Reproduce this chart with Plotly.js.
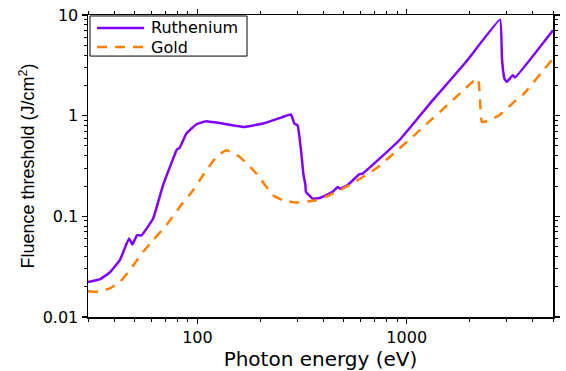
<!DOCTYPE html>
<html>
<head>
<meta charset="utf-8">
<script src="https://cdn.plot.ly/plotly-3.0.1.min.js"></script>
<style>html,body{margin:0;padding:0;background:#fff;}#chart{width:566px;height:371px;}</style>
</head>
<body>
<div id="chart"></div>
<script>
// Photon energy (eV) and fluence threshold (J/cm^2)
const ruEnergy = [30, 34.1, 38.1, 42.6, 47.1, 48.9, 51.4, 54, 61.4, 68.5, 79.4, 80.5, 82, 88.6, 98.9, 110, 137.8, 165.3, 205.8, 255.6, 280, 290.4, 301, 312.6, 320.7, 328, 330, 355.6, 383, 443, 468, 480, 522, 594, 616, 922, 1330, 1918, 2793, 2851, 2929, 3004, 3210, 3290, 5000];
const ruFluence = [0.0223, 0.0236, 0.0277, 0.0367, 0.0602, 0.0525, 0.0649, 0.0645, 0.095, 0.204, 0.453, 0.47, 0.475, 0.664, 0.822, 0.879, 0.822, 0.773, 0.835, 0.97, 1.03, 0.835, 0.802, 0.453, 0.266, 0.204, 0.175, 0.150, 0.152, 0.175, 0.196, 0.188, 0.204, 0.262, 0.266, 0.570, 1.42, 3.41, 8.99, 3.68, 2.34, 2.16, 2.52, 2.39, 7.05];

const auEnergy = [30, 34.1, 38.1, 42.6, 47.5, 55, 61.4, 71.1, 82.3, 95.3, 106.4, 123.3, 137.7, 159.3, 191.4, 229.7, 256, 296, 369, 428, 532, 713, 1109, 1721, 2184, 2290, 2483, 2769, 3325, 3580, 5000];
const auFluence = [0.018, 0.0178, 0.0192, 0.0223, 0.0292, 0.0444, 0.058, 0.0817, 0.124, 0.1816, 0.256, 0.389, 0.453, 0.389, 0.266, 0.162, 0.1445, 0.137, 0.1445, 0.162, 0.204, 0.298, 0.664, 1.53, 2.34, 0.865, 0.90, 1.01, 1.42, 1.60, 3.69];

const seriesNames = ["Ruthenium", "Gold"];
const xTickVals = [100, 1000];
const xTickText = ["100", "1000"];
const yTickVals = [0.01, 0.1, 1, 10];
const yTickText = ["0.01", "0.1", "1", "10"];

const FONT = "DejaVu Sans, Verdana, sans-serif";
const FONT_Y = "Liberation Sans, Arial, sans-serif";
const COLORS = ["rgb(128,0,255)", "rgb(255,128,0)"];
const DASHES = ["solid", "10px,8px"];

const traces = [
  {x: ruEnergy, y: ruFluence, name: seriesNames[0], type: "scatter", mode: "lines", showlegend: false,
   line: {color: COLORS[0], width: 2.5, shape: "spline", smoothing: 0.3}},
  {x: auEnergy, y: auFluence, name: seriesNames[1], type: "scatter", mode: "lines", showlegend: false,
   line: {color: COLORS[1], width: 2.5, dash: DASHES[1], shape: "spline", smoothing: 0.4}}
];

// compact legend box (paper coordinates of the plot area)
const legRows = [0.957, 0.894];
const shapes = [
  {type: "rect", xref: "paper", yref: "paper", x0: 0.0043, x1: 0.342, y0: 0.864, y1: 0.9967,
   line: {color: "#000", width: 1}, fillcolor: "#fff", layer: "above"}
];
const annotations = [];
seriesNames.forEach((name, i) => {
  shapes.push({type: "line", xref: "paper", yref: "paper", x0: 0.0194, x1: 0.1204, y0: legRows[i], y1: legRows[i],
               line: {color: COLORS[i], width: 2.5, dash: DASHES[i]}, layer: "above"});
  annotations.push({xref: "paper", yref: "paper", x: 0.131, y: legRows[i], xanchor: "left", yanchor: "middle",
                    text: name, showarrow: false, font: {family: FONT, size: 16, color: "#000"}});
});

const axisCommon = {
  type: "log", showgrid: false, zeroline: false, showline: true, linecolor: "#000", linewidth: 1.5,
  mirror: "allticks", ticks: "outside", ticklen: 5, tickwidth: 1.5, tickcolor: "#000",
  tickfont: {family: FONT, size: 16, color: "#000"},
  minor: {ticks: "outside", ticklen: 3, tickwidth: 1, tickcolor: "#000", dtick: "D1", showgrid: false}
};

const layout = {
  width: 566, height: 371,
  margin: {l: 88, r: 13, t: 15, b: 54},
  paper_bgcolor: "#fff", plot_bgcolor: "#fff",
  showlegend: false,
  shapes: shapes,
  annotations: annotations,
  xaxis: Object.assign({}, axisCommon, {
    range: [Math.log10(30), Math.log10(5000)],
    tickvals: xTickVals, ticktext: xTickText,
    title: {text: "Photon energy (eV)", standoff: 4,
            font: {family: FONT, size: 20, color: "#000"}}
  }),
  yaxis: Object.assign({}, axisCommon, {
    range: [-2, 1],
    tickvals: yTickVals, ticktext: yTickText,
    title: {text: "Fluence threshold (J/cm<sup>2</sup>)", standoff: 3,
            font: {family: FONT_Y, size: 18, color: "#000"}}
  })
};

Plotly.newPlot("chart", traces, layout, {displayModeBar: false, staticPlot: true});
</script>
</body>
</html>
